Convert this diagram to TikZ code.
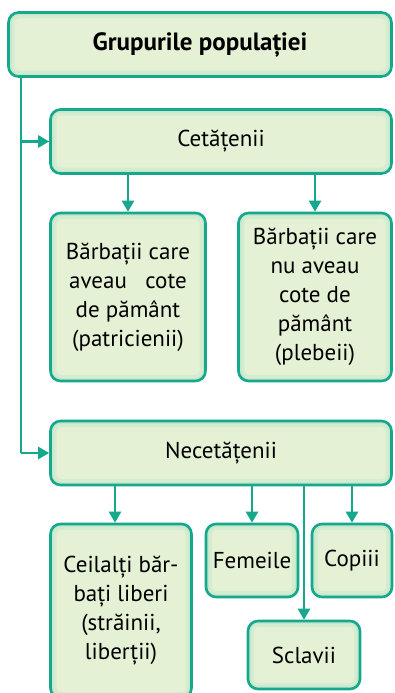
\documentclass[tikz,border=0pt]{standalone}
\usepackage{fontspec}
\setmainfont{PT Sans}
\usetikzlibrary{arrows.meta}
\definecolor{bordc}{HTML}{15A88C}
\definecolor{fillc}{HTML}{E4F1D5}
\definecolor{glowc}{HTML}{B8E4C8}
\begin{document}
\begin{tikzpicture}[x=1pt,y=-1pt,
  box/.style={draw=bordc, line width=2.6pt, fill=fillc, rounded corners=10pt,
    inner sep=0pt, align=center, font=\fontsize{23}{29}\selectfont,
    path picture={
      \draw[glowc, opacity=0.35, line width=12pt, rounded corners=10pt]
        (path picture bounding box.south west) rectangle (path picture bounding box.north east);
      \draw[glowc, opacity=0.5, line width=6pt, rounded corners=10pt]
        (path picture bounding box.south west) rectangle (path picture bounding box.north east);
    }},
  conn/.style={draw=bordc, line width=2.4pt},
  arr/.style={conn, -{Triangle[length=11pt,width=12pt]}}
]
\useasboundingbox (0,0) rectangle (394,693);
\node[box, minimum width=383pt, minimum height=64pt, font=\fontsize{25}{29}\selectfont\bfseries]
  (title) at (200,44.5) {Grupurile populației};
\node[box, minimum width=341pt, minimum height=64pt] (cet) at (221,141.5) {Cetățenii};
\node[box, minimum width=155pt, minimum height=168pt] (b1) at (128,297)
  {Bărbații care\\aveau\ \ \ cote\\de pământ\\(patricienii)};
\node[box, minimum width=153pt, minimum height=168pt] (b2) at (315,297)
  {Bărbații care\\nu aveau\\cote de\\pământ\\(plebeii)};
\node[box, minimum width=341pt, minimum height=64pt] (nec) at (221,453) {Necetățenii};
\node[box, minimum width=141pt, minimum height=174pt] (cei) at (121,611)
  {Ceilalți băr-\\bați liberi\\(străinii,\\liberții)};
\node[box, minimum width=92pt, minimum height=73pt] (fem) at (252,560.5) {Femeile};
\node[box, minimum width=80pt, minimum height=73pt] (cop) at (352,560.5) {Copiii};
\node[box, minimum width=112pt, minimum height=68pt] (scl) at (304,655) {Sclavii};
\coordinate (v) at (21,453);
\draw[conn] (title.south -| v) -- (v);
\draw[arr] (v |- cet.west) -- (cet.west);
\draw[arr] (v) -- (nec.west);
\draw[arr] (b1.north |- cet.south) -- (b1.north);
\draw[arr] (b2.north |- cet.south) -- (b2.north);
\draw[arr] ([xshift=-6pt]cei.north |- nec.south) -- ([xshift=-6pt]cei.north);
\draw[arr] (fem.north |- nec.south) -- (fem.north);
\draw[arr] (cop.north |- nec.south) -- (cop.north);
\draw[arr] (scl.north |- nec.south) -- (scl.north);
\end{tikzpicture}
\end{document}
